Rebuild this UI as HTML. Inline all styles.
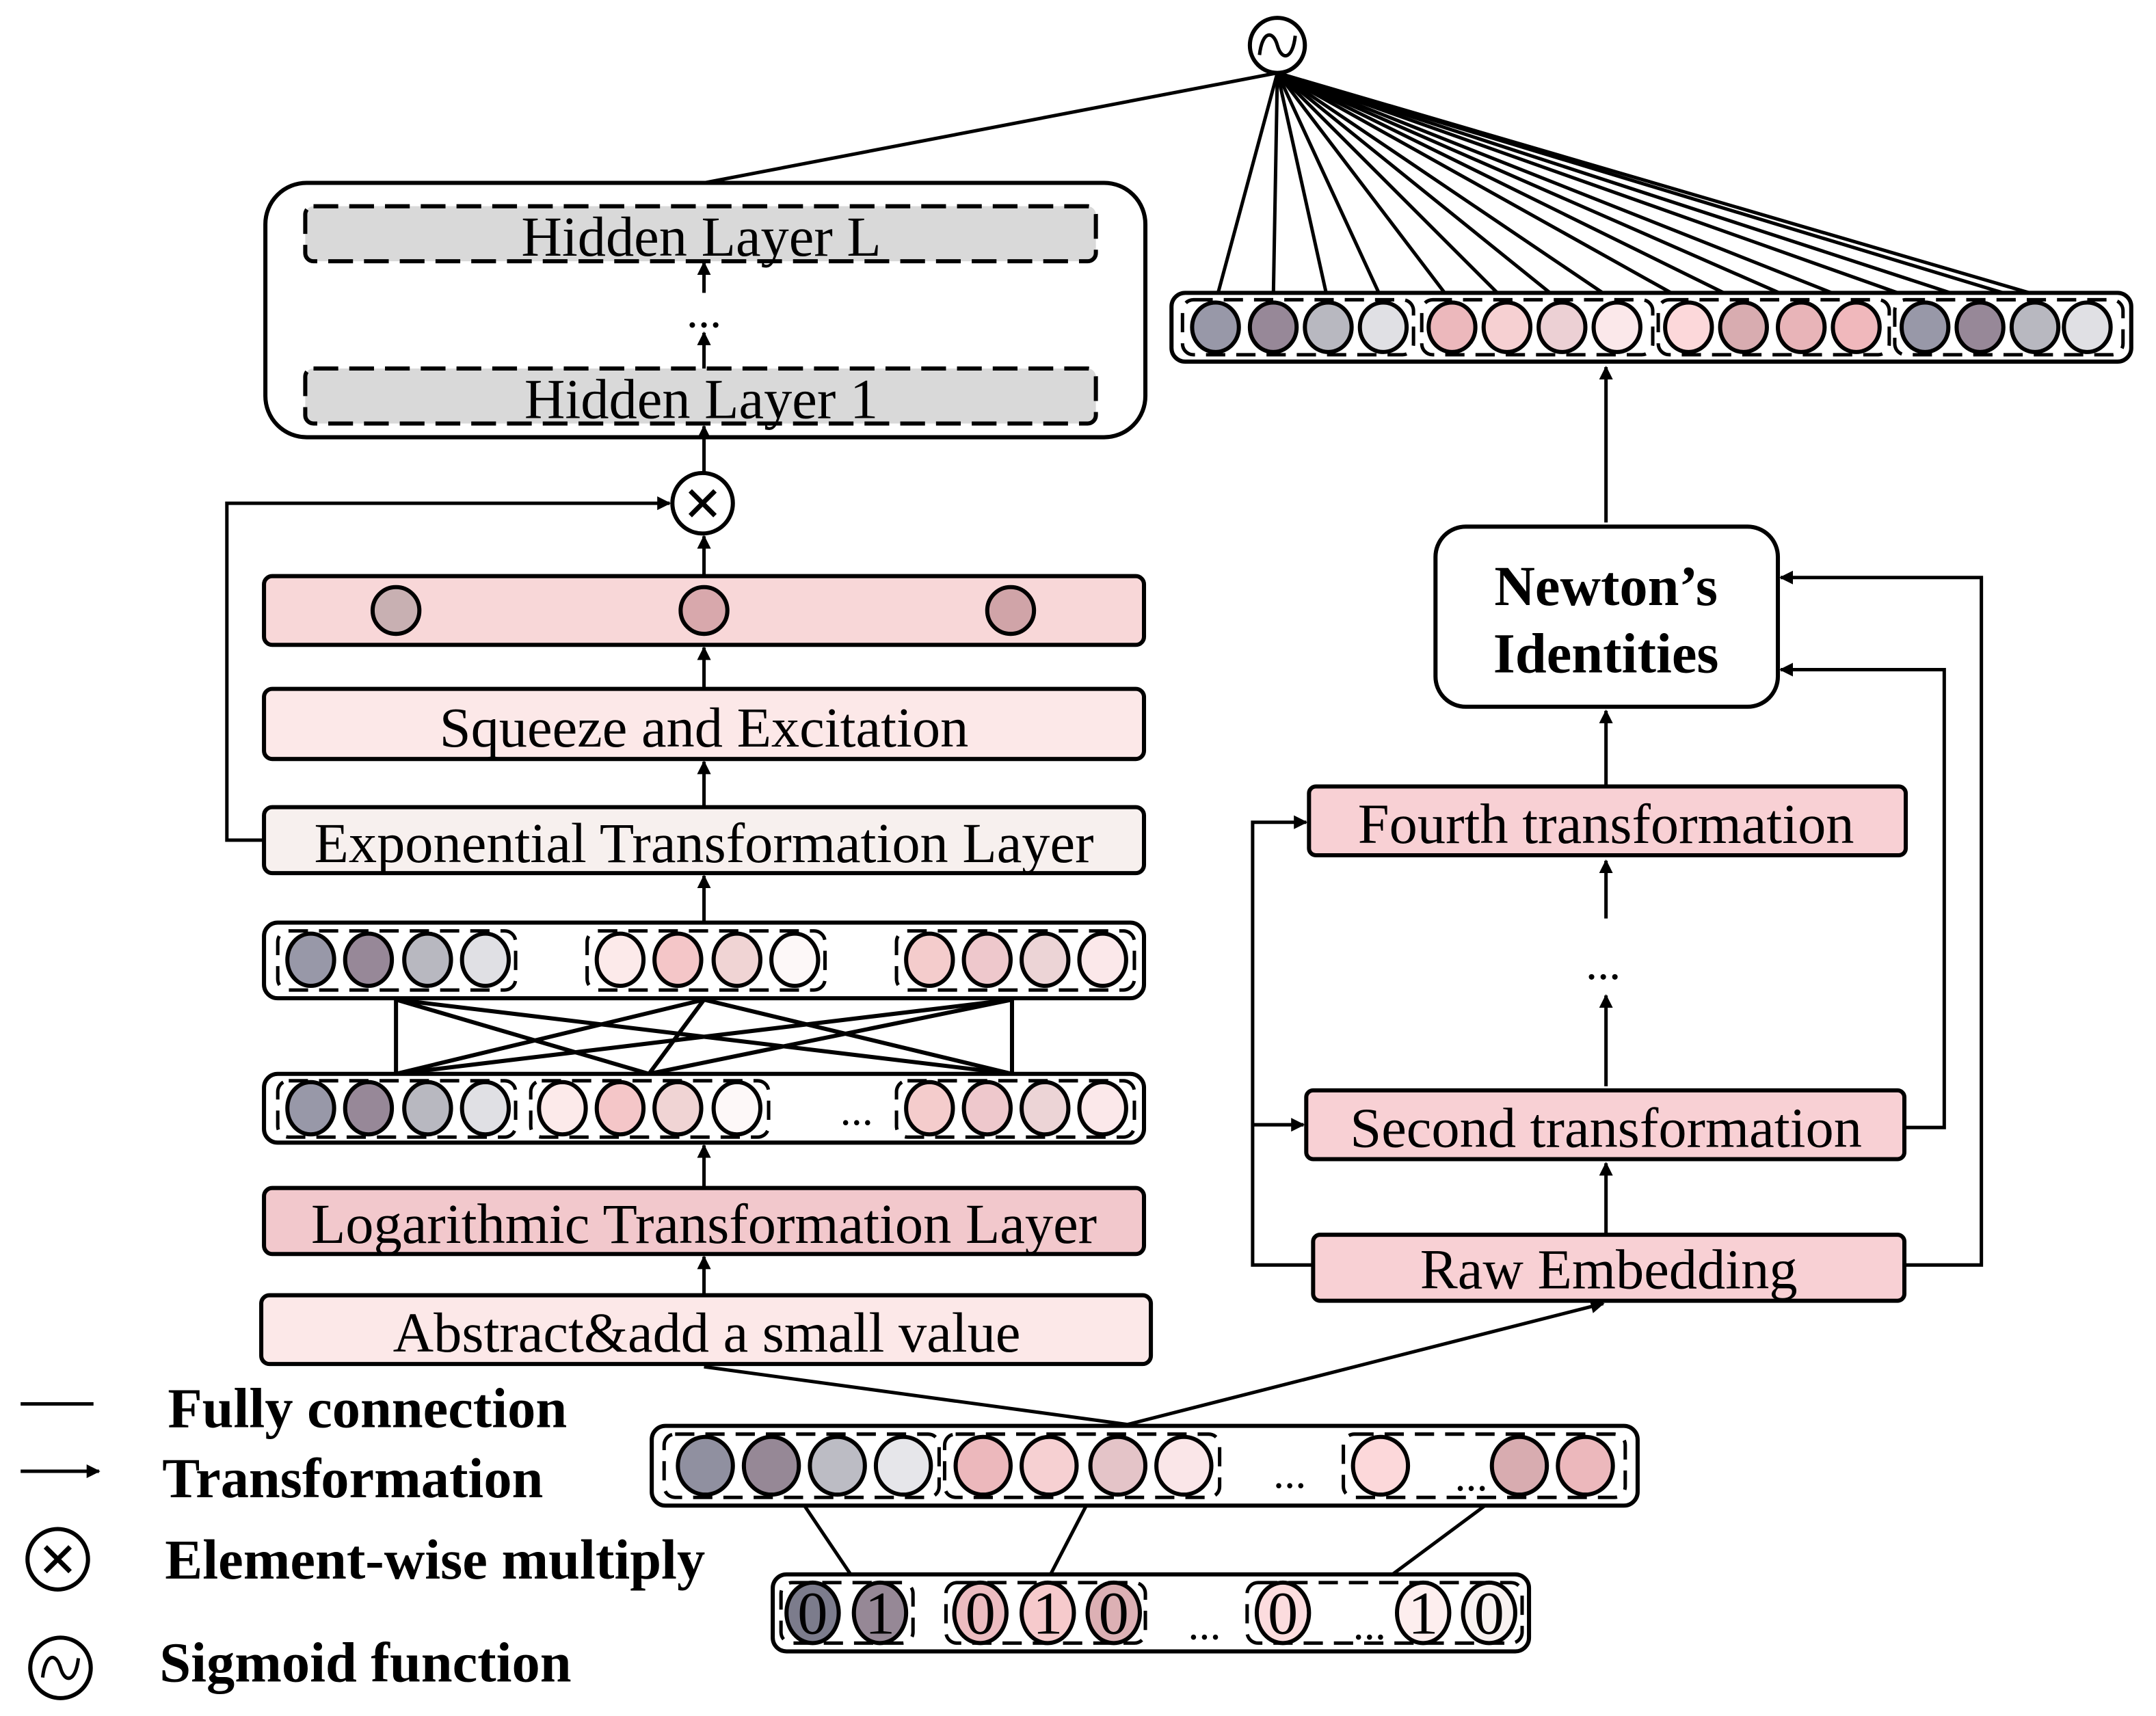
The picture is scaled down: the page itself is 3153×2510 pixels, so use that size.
<!DOCTYPE html>
<html><head><meta charset="utf-8"><style>html,body{margin:0;padding:0;background:#fff}svg{display:block}</style></head>
<body>
<svg width="3153" height="2510" viewBox="0 0 1568 1248" preserveAspectRatio="none" xmlns="http://www.w3.org/2000/svg" font-family="Liberation Serif, serif">
<defs>
<marker id="ah" markerWidth="10" markerHeight="10" refX="9" refY="5" orient="auto" markerUnits="userSpaceOnUse"><path d="M0,0 L10,5 L0,10 z" fill="#000"/></marker>
</defs>
<g stroke="#000" stroke-width="3" fill="none">
<circle cx="929" cy="33" r="20" fill="#fff"/>
<path d="M916,40 C918,22 926,22 929,33 C932,44 940,44 942,26" stroke-width="2.5"/>
<line x1="929" y1="53" x2="512" y2="133" stroke-width="2.5"/>
<rect x="193" y="133" width="640" height="185" rx="30" fill="#fff"/>
<rect x="222" y="150" width="575" height="40" rx="6" fill="#d9d9d9" stroke-dasharray="18,8"/>
<rect x="222" y="268" width="575" height="40" rx="6" fill="#d9d9d9" stroke-dasharray="18,8"/>
<line x1="512" y1="268" x2="512" y2="242" marker-end="url(#ah)" stroke-width="2.5"/>
<line x1="512" y1="213" x2="512" y2="191" marker-end="url(#ah)" stroke-width="2.5"/>
<line x1="512" y1="345" x2="512" y2="310" marker-end="url(#ah)" stroke-width="2.5"/>
<circle cx="511" cy="366" r="22" fill="#fff"/>
<path d="M502,357 L520,375 M520,357 L502,375" stroke-width="3.5"/>
<line x1="512" y1="419" x2="512" y2="390" marker-end="url(#ah)" stroke-width="2.5"/>
<polyline points="192,611 165,611 165,366 487,366" marker-end="url(#ah)" stroke-width="2.5"/>
<rect x="192" y="419" width="640" height="50" rx="6" fill="#f8d7d8"/>
<circle cx="288" cy="444" r="17" fill="#c8b0b2"/>
<circle cx="512" cy="444" r="17" fill="#d8a8ac"/>
<circle cx="735" cy="444" r="17" fill="#d0a4a8"/>
<line x1="512" y1="501" x2="512" y2="471" marker-end="url(#ah)" stroke-width="2.5"/>
<rect x="192" y="501" width="640" height="51" rx="6" fill="#fce8e8"/>
<line x1="512" y1="587" x2="512" y2="554" marker-end="url(#ah)" stroke-width="2.5"/>
<rect x="192" y="587" width="640" height="48" rx="6" fill="#f7f0ee"/>
<line x1="512" y1="671" x2="512" y2="637" marker-end="url(#ah)" stroke-width="2.5"/>
<rect x="192" y="671" width="640" height="55" rx="10" fill="#fff"/>
<rect x="202" y="677" width="173" height="43" rx="8" stroke-dasharray="14,8" stroke-width="2.5"/>
<rect x="427" y="677" width="173" height="43" rx="8" stroke-dasharray="14,8" stroke-width="2.5"/>
<rect x="652" y="677" width="173" height="43" rx="8" stroke-dasharray="14,8" stroke-width="2.5"/>
<ellipse cx="226" cy="698" rx="17" ry="19" fill="#9898a8"/>
<ellipse cx="268" cy="698" rx="17" ry="19" fill="#978898"/>
<ellipse cx="311" cy="698" rx="17" ry="19" fill="#b8b8c0"/>
<ellipse cx="353" cy="698" rx="17" ry="19" fill="#e0e0e4"/>
<ellipse cx="451" cy="698" rx="17" ry="19" fill="#fceaea"/>
<ellipse cx="493" cy="698" rx="17" ry="19" fill="#f4c6c8"/>
<ellipse cx="536" cy="698" rx="17" ry="19" fill="#f0d4d4"/>
<ellipse cx="578" cy="698" rx="17" ry="19" fill="#fdf8f8"/>
<ellipse cx="676" cy="698" rx="17" ry="19" fill="#f4cccc"/>
<ellipse cx="718" cy="698" rx="17" ry="19" fill="#eec8cc"/>
<ellipse cx="760" cy="698" rx="17" ry="19" fill="#ecd4d6"/>
<ellipse cx="802" cy="698" rx="17" ry="19" fill="#fbe8ea"/>
<g stroke-width="3">
<line x1="288" y1="727" x2="288" y2="781"/>
<line x1="736" y1="727" x2="736" y2="781"/>
<line x1="288" y1="727" x2="472" y2="781"/>
<line x1="288" y1="727" x2="736" y2="781"/>
<line x1="512" y1="727" x2="288" y2="781"/>
<line x1="512" y1="727" x2="472" y2="781"/>
<line x1="512" y1="727" x2="736" y2="781"/>
<line x1="736" y1="727" x2="288" y2="781"/>
<line x1="736" y1="727" x2="472" y2="781"/>
</g>
<rect x="192" y="781" width="640" height="50" rx="10" fill="#fff"/>
<rect x="202" y="786" width="173" height="41" rx="8" stroke-dasharray="14,8" stroke-width="2.5"/>
<rect x="386" y="786" width="173" height="41" rx="8" stroke-dasharray="14,8" stroke-width="2.5"/>
<rect x="652" y="786" width="173" height="41" rx="8" stroke-dasharray="14,8" stroke-width="2.5"/>
<ellipse cx="226" cy="806" rx="17" ry="19" fill="#9898a8"/>
<ellipse cx="268" cy="806" rx="17" ry="19" fill="#978898"/>
<ellipse cx="311" cy="806" rx="17" ry="19" fill="#b8b8c0"/>
<ellipse cx="353" cy="806" rx="17" ry="19" fill="#e0e0e4"/>
<ellipse cx="409" cy="806" rx="17" ry="19" fill="#fceaea"/>
<ellipse cx="451" cy="806" rx="17" ry="19" fill="#f4c6c8"/>
<ellipse cx="493" cy="806" rx="17" ry="19" fill="#f0d4d4"/>
<ellipse cx="536" cy="806" rx="17" ry="19" fill="#fdf8f8"/>
<ellipse cx="676" cy="806" rx="17" ry="19" fill="#f4cccc"/>
<ellipse cx="718" cy="806" rx="17" ry="19" fill="#eec8cc"/>
<ellipse cx="760" cy="806" rx="17" ry="19" fill="#ecd4d6"/>
<ellipse cx="802" cy="806" rx="17" ry="19" fill="#fbe8ea"/>
<line x1="512" y1="864" x2="512" y2="833" marker-end="url(#ah)" stroke-width="2.5"/>
<rect x="192" y="864" width="640" height="48" rx="6" fill="#f2c8cc"/>
<line x1="512" y1="942" x2="512" y2="914" marker-end="url(#ah)" stroke-width="2.5"/>
<rect x="190" y="942" width="647" height="50" rx="6" fill="#fce8e8"/>
<g stroke-width="2.5">
<line x1="929" y1="53" x2="884" y2="220"/><line x1="929" y1="53" x2="926" y2="220"/>
<line x1="929" y1="53" x2="966" y2="220"/><line x1="929" y1="53" x2="1006" y2="220"/>
<line x1="929" y1="53" x2="1056" y2="220"/><line x1="929" y1="53" x2="1096" y2="220"/>
<line x1="929" y1="53" x2="1136" y2="220"/><line x1="929" y1="53" x2="1176" y2="220"/>
<line x1="929" y1="53" x2="1228" y2="220"/><line x1="929" y1="53" x2="1268" y2="220"/>
<line x1="929" y1="53" x2="1310" y2="220"/><line x1="929" y1="53" x2="1350" y2="220"/>
<line x1="929" y1="53" x2="1400" y2="220"/><line x1="929" y1="53" x2="1440" y2="220"/>
<line x1="929" y1="53" x2="1480" y2="220"/><line x1="929" y1="53" x2="1500" y2="220"/>
</g>
<rect x="852" y="213" width="698" height="50" rx="10" fill="#fff"/>
<rect x="860" y="218" width="168" height="40" rx="8" stroke-dasharray="14,8" stroke-width="2.5"/>
<rect x="1034" y="218" width="168" height="40" rx="8" stroke-dasharray="14,8" stroke-width="2.5"/>
<rect x="1206" y="218" width="168" height="40" rx="8" stroke-dasharray="14,8" stroke-width="2.5"/>
<rect x="1378" y="218" width="166" height="40" rx="8" stroke-dasharray="14,8" stroke-width="2.5"/>
<ellipse cx="884" cy="238" rx="17" ry="18" fill="#9898a8"/>
<ellipse cx="926" cy="238" rx="17" ry="18" fill="#978898"/>
<ellipse cx="966" cy="238" rx="17" ry="18" fill="#b8b8c0"/>
<ellipse cx="1006" cy="238" rx="17" ry="18" fill="#e0e0e4"/>
<ellipse cx="1056" cy="238" rx="17" ry="18" fill="#ecb8bc"/>
<ellipse cx="1096" cy="238" rx="17" ry="18" fill="#f6d0d2"/>
<ellipse cx="1136" cy="238" rx="17" ry="18" fill="#ecd0d4"/>
<ellipse cx="1176" cy="238" rx="17" ry="18" fill="#fbe8ea"/>
<ellipse cx="1228" cy="238" rx="17" ry="18" fill="#fcd8da"/>
<ellipse cx="1268" cy="238" rx="17" ry="18" fill="#d8acb0"/>
<ellipse cx="1310" cy="238" rx="17" ry="18" fill="#e8b4b8"/>
<ellipse cx="1350" cy="238" rx="17" ry="18" fill="#f0b8bc"/>
<ellipse cx="1400" cy="238" rx="17" ry="18" fill="#9898a8"/>
<ellipse cx="1440" cy="238" rx="17" ry="18" fill="#978898"/>
<ellipse cx="1480" cy="238" rx="17" ry="18" fill="#b8b8c0"/>
<ellipse cx="1518" cy="238" rx="17" ry="18" fill="#e0e0e4"/>
<line x1="1168" y1="380" x2="1168" y2="267" marker-end="url(#ah)" stroke-width="2.5"/>
<rect x="1044" y="383" width="249" height="131" rx="22" fill="#fff"/>
<line x1="1168" y1="572" x2="1168" y2="517" marker-end="url(#ah)" stroke-width="2.5"/>
<rect x="952" y="572" width="434" height="50" rx="5" fill="#f8d0d4"/>
<line x1="1168" y1="668" x2="1168" y2="626" marker-end="url(#ah)" stroke-width="2.5"/>
<line x1="1168" y1="790" x2="1168" y2="724" marker-end="url(#ah)" stroke-width="2.5"/>
<rect x="950" y="793" width="435" height="50" rx="5" fill="#f8d0d4"/>
<line x1="1168" y1="898" x2="1168" y2="846" marker-end="url(#ah)" stroke-width="2.5"/>
<rect x="955" y="898" width="430" height="48" rx="5" fill="#f8d0d4"/>
<polyline points="955,920 911,920 911,598 950,598" marker-end="url(#ah)" stroke-width="2.5"/>
<line x1="911" y1="818" x2="948" y2="818" marker-end="url(#ah)" stroke-width="2.5"/>
<polyline points="1385,820 1414,820 1414,487 1295,487" marker-end="url(#ah)" stroke-width="2.5"/>
<polyline points="1385,920 1441,920 1441,420 1295,420" marker-end="url(#ah)" stroke-width="2.5"/>
<line x1="820" y1="1036" x2="512" y2="994" stroke-width="2.5"/>
<line x1="820" y1="1036" x2="1166" y2="948" marker-end="url(#ah)" stroke-width="2.5"/>
<rect x="474" y="1037" width="717" height="58" rx="10" fill="#fff"/>
<rect x="483" y="1043" width="200" height="46" rx="8" stroke-dasharray="14,8" stroke-width="2.5"/>
<rect x="687" y="1043" width="200" height="46" rx="8" stroke-dasharray="14,8" stroke-width="2.5"/>
<rect x="977" y="1043" width="205" height="46" rx="8" stroke-dasharray="14,8" stroke-width="2.5"/>
<ellipse cx="513" cy="1066" rx="20" ry="21" fill="#9090a0"/>
<ellipse cx="561" cy="1066" rx="20" ry="21" fill="#968896"/>
<ellipse cx="609" cy="1066" rx="20" ry="21" fill="#bcbcc4"/>
<ellipse cx="657" cy="1066" rx="20" ry="21" fill="#e6e6ea"/>
<ellipse cx="715" cy="1066" rx="20" ry="21" fill="#ecb8bc"/>
<ellipse cx="763" cy="1066" rx="20" ry="21" fill="#f6d0d2"/>
<ellipse cx="813" cy="1066" rx="20" ry="21" fill="#e4c4c8"/>
<ellipse cx="861" cy="1066" rx="20" ry="21" fill="#fae6e8"/>
<ellipse cx="1004" cy="1066" rx="20" ry="21" fill="#fcd8da"/>
<ellipse cx="1105" cy="1066" rx="20" ry="21" fill="#d8acb0"/>
<ellipse cx="1153" cy="1066" rx="20" ry="21" fill="#ecb8bc"/>
<line x1="585" y1="1095" x2="620" y2="1147" stroke-width="2.5"/>
<line x1="790" y1="1095" x2="763" y2="1147" stroke-width="2.5"/>
<line x1="1080" y1="1095" x2="1010" y2="1147" stroke-width="2.5"/>
<rect x="562" y="1145" width="550" height="56" rx="10" fill="#fff"/>
<rect x="568" y="1151" width="96" height="44" rx="8" stroke-dasharray="14,8" stroke-width="2.5"/>
<rect x="688" y="1151" width="145" height="44" rx="8" stroke-dasharray="14,8" stroke-width="2.5"/>
<rect x="907" y="1151" width="200" height="44" rx="8" stroke-dasharray="14,8" stroke-width="2.5"/>
<ellipse cx="591" cy="1173" rx="19" ry="22" fill="#7c7c8c"/>
<ellipse cx="640" cy="1173" rx="19" ry="22" fill="#968896"/>
<ellipse cx="713" cy="1173" rx="19" ry="22" fill="#ecbcc0"/>
<ellipse cx="762" cy="1173" rx="19" ry="22" fill="#f6cacc"/>
<ellipse cx="810" cy="1173" rx="19" ry="22" fill="#dcb0b4"/>
<ellipse cx="933" cy="1173" rx="19" ry="22" fill="#fcdcde"/>
<ellipse cx="1035" cy="1173" rx="19" ry="22" fill="#fdeeee"/>
<ellipse cx="1083" cy="1173" rx="19" ry="22" fill="#f8f2f0"/>
<line x1="15" y1="1021" x2="68" y2="1021" stroke-width="2.5"/>
<line x1="15" y1="1070" x2="72" y2="1070" marker-end="url(#ah)" stroke-width="2.5"/>
<circle cx="42" cy="1134" r="22" fill="#fff"/>
<path d="M33,1125 L51,1143 M51,1125 L33,1143" stroke-width="3.5"/>
<circle cx="44" cy="1213" r="22" fill="#fff"/>
<path d="M31,1220 C33,1202 41,1202 44,1213 C47,1224 55,1224 57,1206" stroke-width="2.5"/>
</g>
<g fill="#000" text-anchor="middle" font-size="41">
<text x="510" y="186">Hidden Layer L</text>
<text x="510" y="304">Hidden Layer 1</text>
<text x="512" y="238" font-size="34">...</text>
<text x="512" y="543">Squeeze and Excitation</text>
<text x="512" y="627">Exponential Transformation Layer</text>
<text x="512" y="904">Logarithmic Transformation Layer</text>
<text x="514" y="983">Abstract&amp;add a small value</text>
<text x="623" y="818" font-size="32">...</text>
<text x="1168" y="613">Fourth transformation</text>
<text x="1168" y="834">Second transformation</text>
<text x="1170" y="937">Raw Embedding</text>
<text x="1166" y="712" font-size="34">...</text>
<text x="1168" y="440" font-weight="bold">Newton’s</text>
<text x="1168" y="489" font-weight="bold">Identities</text>
<text x="938" y="1082" font-size="32">...</text>
<text x="1070" y="1084" font-size="32">...</text>
<text x="876" y="1192" font-size="32">...</text>
<text x="996" y="1192" font-size="32">...</text>
<g font-size="44">
<text x="591" y="1188">0</text><text x="640" y="1188">1</text>
<text x="713" y="1188">0</text><text x="762" y="1188">1</text><text x="810" y="1188">0</text>
<text x="933" y="1188">0</text><text x="1035" y="1188">1</text><text x="1083" y="1188">0</text>
</g>
</g>
<g fill="#000" font-weight="bold" font-size="41">
<text x="122" y="1038">Fully connection</text>
<text x="118" y="1089">Transformation</text>
<text x="120" y="1148">Element-wise multiply</text>
<text x="116" y="1223">Sigmoid function</text>
</g>
</svg>
</body></html>
